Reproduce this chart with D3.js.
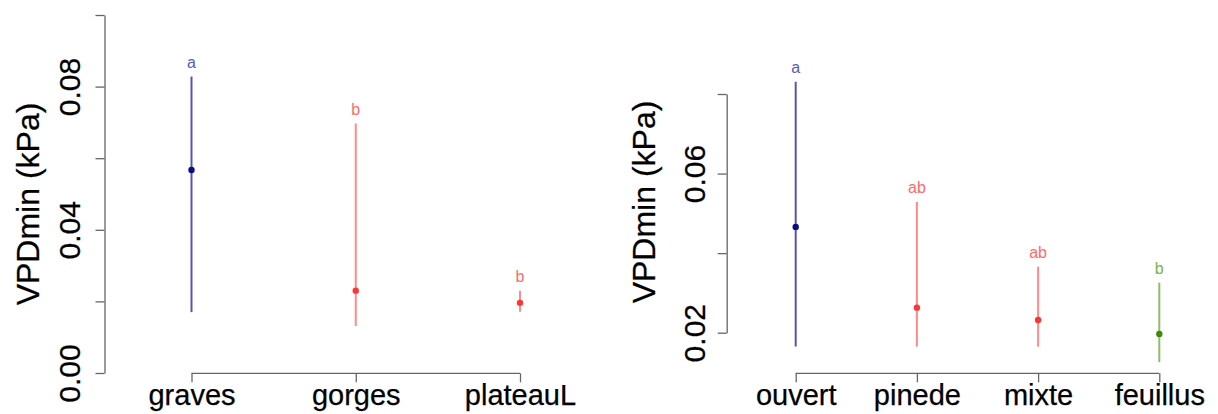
<!DOCTYPE html>
<html>
<head>
<meta charset="utf-8">
<script src="https://cdn.jsdelivr.net/npm/d3@7"></script>
<style>
  html, body { margin: 0; padding: 0; background: #fff; }
  svg { display: block; font-family: "Liberation Sans", Arial, sans-serif; }
</style>
</head>
<body>
<svg id="chart" width="1218" height="414"></svg>
<script>
// ---- Data: left panel ----
const leftCats = ["graves", "gorges", "plateauL"];
const leftMean = [0.0567, 0.0230, 0.0196];
const leftUpper = [0.0828, 0.0697, 0.0230];
const leftLower = [0.0170, 0.0131, 0.0171];
const leftLetters = ["a", "b", "b"];
const leftGroups = ["a", "b", "b"];
const leftTicks = [0, 0.02, 0.04, 0.06, 0.08, 0.10];
const leftTickLabels = ["0.00", "", "0.04", "", "0.08", ""];

// ---- Data: right panel ----
const rightCats = ["ouvert", "pinede", "mixte", "feuillus"];
const rightMean = [0.0466, 0.0263, 0.0232, 0.0197];
const rightUpper = [0.0831, 0.0529, 0.0366, 0.0326];
const rightLower = [0.0165, 0.0165, 0.0165, 0.0126];
const rightLetters = ["a", "ab", "ab", "b"];
const rightGroups = ["blue", "red", "red", "green"];
const rightTicks = [0.02, 0.04, 0.06, 0.08];
const rightTickLabels = ["0.02", "", "0.06", ""];

const yTitle = "VPDmin (kPa)";

// colours
const palette = {
  blue:  { line: "#5454b4", dot: "#0a0a8c", text: "#5a5ab6" },
  red:   { line: "#ff8a8a", dot: "#ff3535", text: "#ff6a6a" },
  green: { line: "#8fbd68", dot: "#3d8a0a", text: "#7cb342" }
};
const leftPal = { a: "blue", b: "red" };

const svg = d3.select("#chart");
const axisColor = "#666";

function panel(cfg) {
  const g = svg.append("g");
  const y = d3.scaleLinear().domain(cfg.yDomain).range(cfg.yRange);
  const x = d3.scalePoint().domain(cfg.cats).range(cfg.xRange);

  // y axis
  const yAxis = d3.axisLeft(y)
    .tickValues(cfg.ticks)
    .tickSize(9)
    .tickSizeOuter(0)
    .tickFormat((d, i) => cfg.tickLabels[i]);
  const ya = g.append("g").attr("transform", `translate(${cfg.yAxisX},0)`).call(yAxis);
  ya.select(".domain").attr("stroke", axisColor).attr("stroke-width", 1.3);
  ya.selectAll(".tick line").attr("stroke", axisColor).attr("stroke-width", 1.3);
  ya.selectAll(".tick text")
    .attr("transform", "rotate(-90)")
    .attr("x", 0).attr("y", -cfg.tickLabelOffset).attr("dy", 0)
    .attr("text-anchor", "middle")
    .attr("fill", "#000")
    .attr("stroke", "#000").attr("stroke-width", 0.25)
    .style("font-size", "30px")
    .style("font-family", "Liberation Sans, Arial, sans-serif");

  // x axis
  const xAxis = d3.axisBottom(x).tickSize(9).tickSizeOuter(0).tickPadding(6);
  const xa = g.append("g").attr("transform", `translate(0,${cfg.xAxisY})`).call(xAxis);
  xa.select(".domain").attr("stroke", axisColor).attr("stroke-width", 1.3)
    .attr("d", `M${cfg.xRange[0]},0H${cfg.xRange[1]}`);
  xa.selectAll(".tick line").attr("stroke", axisColor).attr("stroke-width", 1.3);
  xa.selectAll(".tick text")
    .attr("y", 0).attr("dy", 0)
    .attr("transform", "translate(0,32)")
    .attr("fill", "#000")
    .attr("stroke", "#000").attr("stroke-width", 0.25)
    .style("font-size", "29px")
    .style("font-family", "Liberation Sans, Arial, sans-serif");

  // y title
  g.append("text")
    .attr("transform", `translate(${cfg.titleX},${cfg.titleY}) rotate(-90)`)
    .attr("text-anchor", "middle")
    .style("font-size", "32px")
    .attr("fill", "#000")
    .attr("stroke", "#000").attr("stroke-width", 0.25)
    .text(yTitle);

  const rows = cfg.cats.map((c, i) => ({
    cat: c, mean: cfg.mean[i], up: cfg.upper[i], lo: cfg.lower[i],
    letter: cfg.letters[i], col: palette[cfg.colorKeys[i]]
  }));

  // whiskers
  g.selectAll("line.whisk").data(rows).enter().append("line")
    .attr("class", "whisk")
    .attr("x1", d => x(d.cat)).attr("x2", d => x(d.cat))
    .attr("y1", d => y(d.lo)).attr("y2", d => y(d.up))
    .attr("stroke", d => d.col.line).attr("stroke-width", 2);

  // means
  g.selectAll("circle.mean").data(rows).enter().append("circle")
    .attr("class", "mean")
    .attr("cx", d => x(d.cat)).attr("cy", d => y(d.mean))
    .attr("r", 3.2)
    .attr("fill", d => d.col.dot);

  // letters
  g.selectAll("text.letter").data(rows).enter().append("text")
    .attr("class", "letter")
    .attr("x", d => x(d.cat)).attr("y", d => y(d.up) - 8.5)
    .attr("text-anchor", "middle")
    .style("font-size", "16px")
    .attr("fill", d => d.col.text)
    .text(d => d.letter);
}

panel({
  cats: leftCats, mean: leftMean, upper: leftUpper, lower: leftLower,
  letters: leftLetters, colorKeys: leftGroups.map(g => leftPal[g]),
  ticks: leftTicks, tickLabels: leftTickLabels,
  yDomain: [0, 0.10], yRange: [373, 15],
  xRange: [191.5, 520], yAxisX: 104.5, xAxisY: 373.3,
  tickLabelOffset: 25, titleX: 39, titleY: 204
});

panel({
  cats: rightCats, mean: rightMean, upper: rightUpper, lower: rightLower,
  letters: rightLetters, colorKeys: rightGroups,
  ticks: rightTicks, tickLabels: rightTickLabels,
  yDomain: [0.02, 0.08], yRange: [332.7, 94],
  xRange: [795.7, 1159.3], yAxisX: 726.7, xAxisY: 373.3,
  tickLabelOffset: 22, titleX: 655, titleY: 202
});
</script>
</body>
</html>
